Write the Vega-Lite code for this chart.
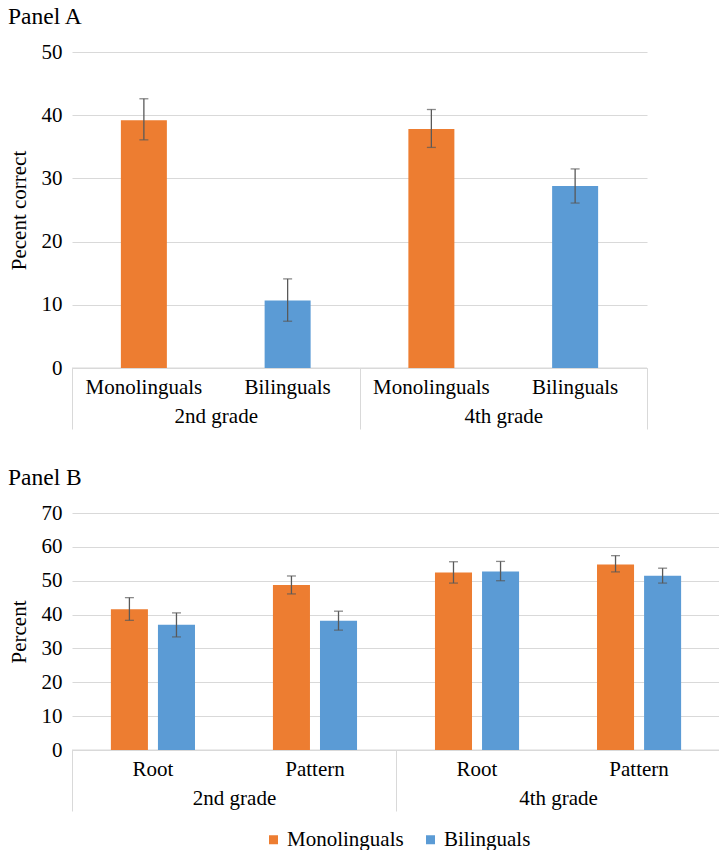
{
  "$schema": "https://vega.github.io/schema/vega-lite/v6.json",
  "padding": {"left": 8, "top": 4, "right": 0, "bottom": 0},
  "background": "white",
  "spacing": 35,
  "resolve": {"scale": {"color": "independent"}, "legend": {"color": "independent"}},
  "config": {
    "font": "'Liberation Serif', 'Times New Roman', Times, serif",
    "view": {"stroke": null},
    "axis": {"labelFontSize": 21, "titleFontSize": 21, "labelColor": "#000", "titleColor": "#000", "titleFontWeight": "normal", "labelFont": "'Liberation Serif', 'Times New Roman', Times, serif", "titleFont": "'Liberation Serif', 'Times New Roman', Times, serif"},
    "title": {"fontSize": 23.5, "fontWeight": "normal", "color": "#000", "anchor": "start", "offset": 13, "font": "'Liberation Serif', 'Times New Roman', Times, serif"},
    "legend": {"labelFontSize": 21, "labelFont": "'Liberation Serif', 'Times New Roman', Times, serif", "labelColor": "#000", "symbolType": "square", "symbolSize": 81, "symbolStrokeWidth": 0, "columnPadding": 16, "labelOffset": 3}
  },
  "datasets": {
    "grades": [
      {"grade": "2nd grade", "gStart": 0, "gEnd": 1},
      {"grade": "4th grade", "gStart": 1, "gEnd": 2}
    ],
    "panelA": [
      {"grade": "2nd grade", "group": "Monolinguals", "bar": "2nd grade|Monolinguals", "value": 39.2, "lo": 36.1, "hi": 42.6},
      {"grade": "2nd grade", "group": "Bilinguals", "bar": "2nd grade|Bilinguals", "value": 10.7, "lo": 7.4, "hi": 14.1},
      {"grade": "4th grade", "group": "Monolinguals", "bar": "4th grade|Monolinguals", "value": 37.8, "lo": 34.9, "hi": 40.9},
      {"grade": "4th grade", "group": "Bilinguals", "bar": "4th grade|Bilinguals", "value": 28.8, "lo": 26.1, "hi": 31.5}
    ],
    "panelB": [
      {"grade": "2nd grade", "task": "Root", "cell": "2nd grade|Root", "group": "Monolinguals", "value": 41.6, "lo": 38.3, "hi": 45.0},
      {"grade": "2nd grade", "task": "Root", "cell": "2nd grade|Root", "group": "Bilinguals", "value": 37.0, "lo": 33.4, "hi": 40.5},
      {"grade": "2nd grade", "task": "Pattern", "cell": "2nd grade|Pattern", "group": "Monolinguals", "value": 48.7, "lo": 46.1, "hi": 51.4},
      {"grade": "2nd grade", "task": "Pattern", "cell": "2nd grade|Pattern", "group": "Bilinguals", "value": 38.2, "lo": 35.4, "hi": 41.0},
      {"grade": "4th grade", "task": "Root", "cell": "4th grade|Root", "group": "Monolinguals", "value": 52.4, "lo": 49.3, "hi": 55.6},
      {"grade": "4th grade", "task": "Root", "cell": "4th grade|Root", "group": "Bilinguals", "value": 52.7, "lo": 50.0, "hi": 55.7},
      {"grade": "4th grade", "task": "Pattern", "cell": "4th grade|Pattern", "group": "Monolinguals", "value": 54.8, "lo": 52.6, "hi": 57.4},
      {"grade": "4th grade", "task": "Pattern", "cell": "4th grade|Pattern", "group": "Bilinguals", "value": 51.5, "lo": 49.3, "hi": 53.7}
    ]
  },
  "vconcat": [
    {
      "title": {"text": "Panel A"},
      "width": 575,
      "height": 316,
      "resolve": {"scale": {"x": "independent"}, "axis": {"x": "independent"}},
      "layer": [
        {
          "data": {"name": "grades"},
          "mark": {"type": "rule", "color": "#d9d9d9", "strokeWidth": 1},
          "encoding": {
            "x": {"field": "gStart", "type": "quantitative", "scale": {"domain": [0, 2], "nice": false, "zero": true},
              "axis": {"orient": "bottom", "values": [0, 0.5, 1, 1.5, 2], "domain": true, "domainColor": "#d9d9d9", "ticks": true, "tickSize": 61, "tickColor": "#d9d9d9",
                "tickOpacity": {"condition": {"test": "datum.value % 1 != 0", "value": 0}, "value": 1},
                "labelExpr": "datum.value == 0.5 ? '2nd grade' : datum.value == 1.5 ? '4th grade' : ''",
                "labelPadding": -24, "labelOverlap": false, "labelFlush": false, "grid": false, "title": null}},
            "x2": {"field": "gEnd"},
            "y": {"datum": 0, "type": "quantitative", "scale": {"domain": [0, 50], "nice": false},
              "axis": {"values": [0, 10, 20, 30, 40, 50], "tickCount": 6, "labelOverlap": false, "grid": true, "gridColor": "#d9d9d9", "domain": false, "ticks": false, "labelPadding": 10, "title": "Pecent correct", "titlePadding": 12}}
          }
        },
        {
          "data": {"name": "panelA"},
          "layer": [
            {
              "mark": {"type": "bar"},
              "encoding": {
                "x": {"field": "bar", "type": "nominal", "sort": null, "scale": {"paddingInner": 0.68, "paddingOuter": 0.34},
                  "axis": {"orient": "bottom", "domain": false, "ticks": false, "labelAngle": 0, "labelExpr": "split(datum.label, '|')[1]", "labelPadding": 8, "title": null, "grid": false}},
                "y": {"field": "value", "type": "quantitative", "scale": {"domain": [0, 50], "nice": false},
                  "axis": {"values": [0, 10, 20, 30, 40, 50], "tickCount": 6, "labelOverlap": false, "grid": true, "gridColor": "#d9d9d9", "domain": false, "ticks": false, "labelPadding": 10, "title": "Pecent correct", "titlePadding": 12}},
                "color": {"field": "group", "type": "nominal", "scale": {"domain": ["Monolinguals", "Bilinguals"], "range": ["#ED7D31", "#5B9BD5"]},
                  "legend": null}
              }
            },
            {
              "mark": {"type": "rule", "color": "#595959", "strokeWidth": 1.3},
              "encoding": {
                "x": {"field": "bar", "type": "nominal", "sort": null},
                "y": {"field": "lo", "type": "quantitative"},
                "y2": {"field": "hi"}
              }
            },
            {
              "mark": {"type": "tick", "orient": "horizontal", "color": "#595959", "size": 9, "thickness": 1.3},
              "encoding": {
                "x": {"field": "bar", "type": "nominal", "sort": null},
                "y": {"field": "hi", "type": "quantitative"}
              }
            },
            {
              "mark": {"type": "tick", "orient": "horizontal", "color": "#595959", "size": 9, "thickness": 1.3},
              "encoding": {
                "x": {"field": "bar", "type": "nominal", "sort": null},
                "y": {"field": "lo", "type": "quantitative"}
              }
            }
          ]
        }
      ]
    },
    {
      "title": {"text": "Panel B"},
      "width": 648,
      "height": 237,
      "resolve": {"scale": {"x": "independent"}, "axis": {"x": "independent"}},
      "layer": [
        {
          "data": {"name": "grades"},
          "mark": {"type": "rule", "color": "#d9d9d9", "strokeWidth": 1},
          "encoding": {
            "x": {"field": "gStart", "type": "quantitative", "scale": {"domain": [0, 2], "nice": false, "zero": true},
              "axis": {"orient": "bottom", "values": [0, 0.5, 1, 1.5, 2], "domain": true, "domainColor": "#d9d9d9", "ticks": true, "tickSize": 61, "tickColor": "#d9d9d9",
                "tickOpacity": {"condition": {"test": "datum.value % 1 != 0", "value": 0}, "value": 1},
                "labelExpr": "datum.value == 0.5 ? '2nd grade' : datum.value == 1.5 ? '4th grade' : ''",
                "labelPadding": -24, "labelOverlap": false, "labelFlush": false, "grid": false, "title": null}},
            "x2": {"field": "gEnd"},
            "y": {"datum": 0, "type": "quantitative", "scale": {"domain": [0, 70], "nice": false},
              "axis": {"values": [0, 10, 20, 30, 40, 50, 60, 70], "tickCount": 8, "labelOverlap": false, "grid": true, "gridColor": "#d9d9d9", "domain": false, "ticks": false, "labelPadding": 10, "title": "Percent", "titlePadding": 12}}
          }
        },
        {
          "data": {"name": "panelB"},
          "layer": [
            {
              "mark": {"type": "bar"},
              "encoding": {
                "x": {"field": "cell", "type": "nominal", "sort": null, "scale": {"paddingInner": 0.481, "paddingOuter": 0.24},
                  "axis": {"orient": "bottom", "domain": false, "ticks": false, "labelAngle": 0, "labelExpr": "split(datum.label, '|')[1]", "labelPadding": 8, "title": null, "grid": false}},
                "xOffset": {"field": "group", "type": "nominal", "scale": {"domain": ["Monolinguals", "Bilinguals"], "paddingInner": 0.213, "paddingOuter": 0}},
                "y": {"field": "value", "type": "quantitative", "scale": {"domain": [0, 70], "nice": false},
                  "axis": {"values": [0, 10, 20, 30, 40, 50, 60, 70], "tickCount": 8, "labelOverlap": false, "grid": true, "gridColor": "#d9d9d9", "domain": false, "ticks": false, "labelPadding": 10, "title": "Percent", "titlePadding": 12}},
                "color": {"field": "group", "type": "nominal", "scale": {"domain": ["Monolinguals", "Bilinguals"], "range": ["#ED7D31", "#5B9BD5"]},
                  "legend": {"orient": "none", "legendX": 191, "legendY": 316, "direction": "horizontal", "title": null}}
              }
            },
            {
              "mark": {"type": "rule", "color": "#595959", "strokeWidth": 1.3},
              "encoding": {
                "x": {"field": "cell", "type": "nominal", "sort": null},
                "xOffset": {"field": "group", "type": "nominal"},
                "y": {"field": "lo", "type": "quantitative"},
                "y2": {"field": "hi"}
              }
            },
            {
              "mark": {"type": "tick", "orient": "horizontal", "color": "#595959", "size": 9, "thickness": 1.3},
              "encoding": {
                "x": {"field": "cell", "type": "nominal", "sort": null},
                "xOffset": {"field": "group", "type": "nominal"},
                "y": {"field": "hi", "type": "quantitative"}
              }
            },
            {
              "mark": {"type": "tick", "orient": "horizontal", "color": "#595959", "size": 9, "thickness": 1.3},
              "encoding": {
                "x": {"field": "cell", "type": "nominal", "sort": null},
                "xOffset": {"field": "group", "type": "nominal"},
                "y": {"field": "lo", "type": "quantitative"}
              }
            }
          ]
        }
      ]
    }
  ]
}
